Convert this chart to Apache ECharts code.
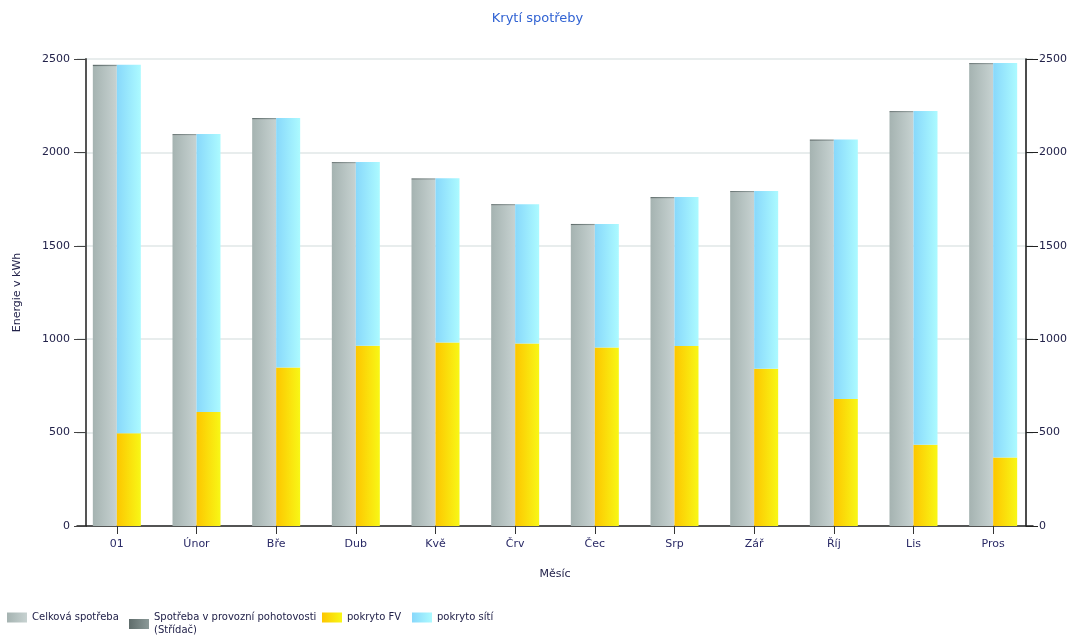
<!DOCTYPE html>
<html>
<head>
<meta charset="utf-8">
<title>Krytí spotřeby</title>
<script src="https://cdn.jsdelivr.net/npm/echarts@6/dist/echarts.min.js"></script>
<style>
  html, body { margin: 0; padding: 0; background: #ffffff; }
  #chart { width: 1075px; height: 641px; }
</style>
</head>
<body>
<div id="chart"></div>
<script>
// Monthly energy consumption and how it is covered (kWh)
const months = ['01', 'Únor', 'Bře', 'Dub', 'Kvě', 'Črv', 'Čec', 'Srp', 'Zář', 'Říj', 'Lis', 'Pros'];
const celkovaSpotreba = [2462, 2091, 2177, 1941, 1854, 1716, 1610, 1754, 1786, 2062, 2214, 2471];
const spotrebaPohotovost = [7, 7, 7, 7, 7, 7, 7, 7, 7, 7, 7, 7];
const pokrytoFV = [496, 610, 849, 965, 983, 977, 956, 963, 842, 680, 435, 367];
const pokrytoSiti = [1973, 1488, 1335, 983, 878, 746, 661, 798, 951, 1389, 1786, 2111];
const yTicks = [0, 500, 1000, 1500, 2000, 2500];

const seriesNames = [
  'Celková spotřeba',
  'Spotřeba v provozní pohotovosti (Střídač)',
  'pokryto FV',
  'pokryto sítí'
];
// left edge of each legend entry
const legendLeft = [7, 129, 322, 412];

const FONT = 'DejaVu Sans';

function hGrad(c1, c2) {
  return new echarts.graphic.LinearGradient(0, 0, 1, 0, [
    { offset: 0, color: c1 },
    { offset: 1, color: c2 }
  ]);
}

const chart = echarts.init(document.getElementById('chart'), null, { renderer: 'canvas' });

const valueAxisBase = {
  type: 'value',
  min: yTicks[0],
  max: yTicks[yTicks.length - 1],
  interval: yTicks[1] - yTicks[0],
  axisTick: { show: true, length: 12, lineStyle: { color: '#444444' } },
  axisLabel: {
    fontFamily: FONT, fontSize: 11, color: '#22224a',
    formatter: function (v) { return String(v); }
  }
};

// one legend block per entry so that every entry is top-aligned
const legends = seriesNames.map(function (name, i) {
  return {
    data: [name],
    left: legendLeft[i],
    top: 611,
    padding: 0,
    itemWidth: 20,
    itemHeight: 10,
    icon: 'rect',
    formatter: function (n) { return n.replace(' (', '\n('); },
    textStyle: { fontFamily: FONT, fontSize: 10, color: '#22224a', lineHeight: 13 }
  };
});

const option = {
  backgroundColor: '#ffffff',
  animation: false,
  title: {
    text: 'Krytí spotřeby',
    left: 'center',
    top: 7,
    textStyle: { fontFamily: FONT, fontSize: 13, fontWeight: 'normal', color: '#3163d3' }
  },
  legend: legends,
  grid: { left: 77, right: 42, top: 59, bottom: 115, containLabel: false },
  xAxis: {
    type: 'category',
    data: months,
    name: 'Měsíc',
    nameLocation: 'middle',
    nameGap: 43,
    nameTextStyle: { fontFamily: FONT, fontSize: 11, color: '#22224a' },
    axisLine: { show: true, lineStyle: { color: '#222222', width: 1.5 } },
    axisTick: { show: true, alignWithLabel: true, length: 8, lineStyle: { color: '#333333' } },
    axisLabel: { fontFamily: FONT, fontSize: 11, color: '#2a2a66', margin: 13 },
    splitLine: { show: false }
  },
  yAxis: [
    Object.assign({}, valueAxisBase, {
      position: 'left',
      offset: -9,
      name: 'Energie v kWh',
      nameLocation: 'middle',
      nameGap: 63,
      nameRotate: 90,
      nameTextStyle: { fontFamily: FONT, fontSize: 11, color: '#22224a' },
      axisLabel: Object.assign({}, valueAxisBase.axisLabel, { margin: 16 }),
      axisLine: { show: true, lineStyle: { color: '#555555', width: 2 } },
      splitLine: { show: true, lineStyle: { color: '#e1e7e7', width: 1.5 } }
    }),
    Object.assign({}, valueAxisBase, {
      position: 'right',
      offset: -7,
      axisLabel: Object.assign({}, valueAxisBase.axisLabel, { margin: 13 }),
      axisTick: { show: true, length: 12, lineStyle: { color: '#222222' } },
      axisLine: { show: true, lineStyle: { color: '#111111', width: 1.5 } },
      splitLine: { show: false }
    })
  ],
  series: [
    {
      name: seriesNames[0],
      type: 'bar',
      stack: 'spotreba',
      barWidth: 24,
      barGap: '0%',
      data: celkovaSpotreba,
      itemStyle: { color: hGrad('#a5b3b1', '#c7d2d1') }
    },
    {
      name: seriesNames[1],
      type: 'bar',
      stack: 'spotreba',
      barWidth: 24,
      barGap: '0%',
      data: spotrebaPohotovost,
      itemStyle: { color: hGrad('#5f6c6b', '#8c9a99') }
    },
    {
      name: seriesNames[2],
      type: 'bar',
      stack: 'kryti',
      barWidth: 24,
      barGap: '0%',
      data: pokrytoFV,
      itemStyle: { color: hGrad('#fdc600', '#f8f716') }
    },
    {
      name: seriesNames[3],
      type: 'bar',
      stack: 'kryti',
      barWidth: 24,
      barGap: '0%',
      data: pokrytoSiti,
      itemStyle: { color: hGrad('#88d8fb', '#acfaff') }
    }
  ]
};

chart.setOption(option);
</script>
</body>
</html>
